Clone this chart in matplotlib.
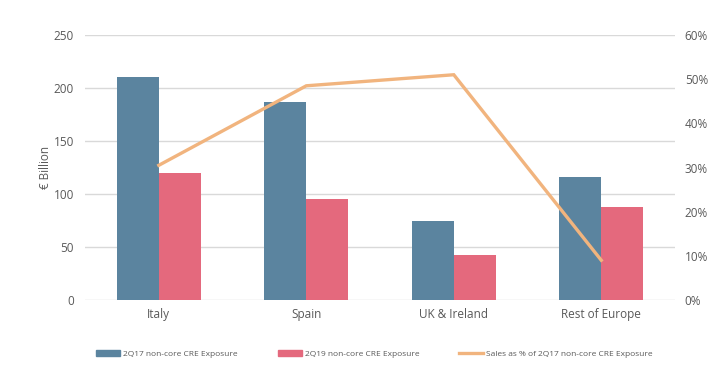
import matplotlib
matplotlib.use("Agg")
import matplotlib.pyplot as plt
import numpy as np
from matplotlib.lines import Line2D
from matplotlib.patches import Patch

categories = ["Italy", "Spain", "UK & Ireland", "Rest of Europe"]
exposure_2q17 = [210, 187, 75, 116]
exposure_2q19 = [120, 95, 42, 88]
sales_pct = [30.5, 48.5, 51, 9]
left_ticks = [0, 50, 100, 150, 200, 250]
right_ticks = [0, 10, 20, 30, 40, 50, 60]

c_blue = "#5b849f"
c_red = "#e4697d"
c_orange = "#f1b47e"
c_text = "#595959"
c_grid = "#d9d9d9"
font = "Open Sans"

fig = plt.figure(figsize=(7.27, 3.8), dpi=100)
ax = fig.add_axes([0.117, 0.2105, 0.8115, 0.6974])
x = np.arange(len(categories))
w = 0.285
ax.bar(x - w / 2, exposure_2q17, w, color=c_blue, zorder=2)
ax.bar(x + w / 2, exposure_2q19, w, color=c_red, zorder=2)
ax.set_xlim(-0.5, len(categories) - 0.5)
ax.set_ylim(0, 250)
ax.set_yticks(left_ticks)
ax.set_yticklabels([str(t) for t in left_ticks], fontsize=8.5, color=c_text, family=font)
ax.set_xticks(x)
ax.set_xticklabels(categories, fontsize=8.5, color=c_text, family=font)
ax.yaxis.grid(True, color=c_grid, linewidth=1, zorder=0)
ax.set_axisbelow(True)
for s in ax.spines.values():
    s.set_visible(False)
ax.tick_params(axis="both", length=0, pad=8)
ax.tick_params(axis="x", pad=6)
ax.set_ylabel("€ Billion", fontsize=8.5, color=c_text, family=font, labelpad=1)

ax2 = ax.twinx()
ax2.plot(x, sales_pct, color=c_orange, linewidth=2.4, zorder=3, solid_joinstyle="miter")
ax2.set_ylim(0, 60)
ax2.set_yticks(right_ticks)
ax2.set_yticklabels([f"{t}%" for t in right_ticks], fontsize=8.5, color=c_text, family=font)
for s in ax2.spines.values():
    s.set_visible(False)
ax2.tick_params(axis="y", length=0, pad=7)

handles = [
    Patch(color=c_blue),
    Patch(color=c_red),
    Line2D([0], [0], color=c_orange, linewidth=2.4),
]
labels = ["2Q17 non-core CRE Exposure", "2Q19 non-core CRE Exposure",
          "Sales as % of 2Q17 non-core CRE Exposure"]
leg = fig.legend(handles, labels, loc="center", bbox_to_anchor=(0.515, 0.068), ncol=3,
                 frameon=False, handlelength=2.9, handleheight=0.6,
                 handletextpad=0.35, columnspacing=4.8, prop={"family": font, "size": 6})
for t in leg.get_texts():
    t.set_color(c_text)

fig.savefig("out.png", dpi=100)
